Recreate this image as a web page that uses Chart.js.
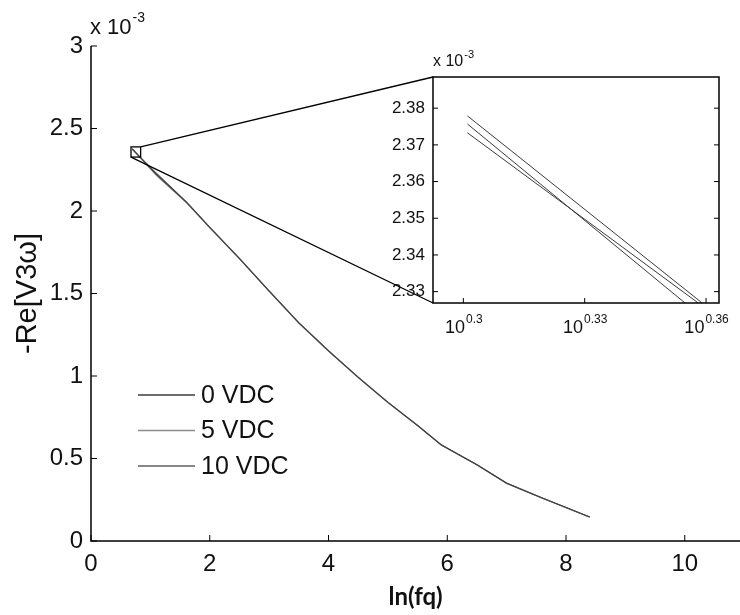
<!DOCTYPE html>
<html>
<head>
<meta charset="utf-8">
<script src="https://cdn.jsdelivr.net/npm/chart.js@4.4.0/dist/chart.umd.min.js"></script>
<style>
  body { margin: 0; background: #fff; }
  #wrap { position: relative; width: 740px; height: 615px; }
  #mainChart { position: absolute; left: 0; top: 0; }
  #zoomChart { position: absolute; left: 370px; top: 20px; }
</style>
</head>
<body>
<div id="wrap">
  <canvas id="mainChart" width="740" height="615"></canvas>
  <canvas id="zoomChart" width="370" height="330"></canvas>
</div>
<script>
// ln of the drive frequency, and -Re[V3w] (x 10^-3) for each bias
const lnFq = [0.6931, 1.10, 1.61, 2.0, 2.5, 3.0, 3.5, 4.0, 4.5, 5.0, 5.5, 5.9, 6.5, 7.0, 7.6, 8.4];
const vdc0 = [2.3779, 2.2226, 2.052, 1.900, 1.712, 1.515, 1.322, 1.152, 0.992, 0.840, 0.700, 0.582, 0.462, 0.350, 0.260, 0.145];
const vdc5 = [2.3757, 2.2154, 2.049, 1.898, 1.711, 1.514, 1.321, 1.151, 0.991, 0.839, 0.699, 0.581, 0.461, 0.349, 0.259, 0.144];
const vdc10 = [2.3733, 2.2296, 2.054, 1.902, 1.713, 1.516, 1.323, 1.153, 0.993, 0.841, 0.701, 0.583, 0.463, 0.351, 0.261, 0.146];
const seriesLabels = ['0 VDC', '5 VDC', '10 VDC'];

// tick positions
const xTicks = [0, 2, 4, 6, 8, 10];
const yTicks = [0, 0.5, 1, 1.5, 2, 2.5, 3];
const zoomXExp = [0.3, 0.33, 0.36];           // inset x ticks sit at 10^exp
const zoomYTicks = [2.33, 2.34, 2.35, 2.36, 2.37, 2.38];

const FONT = '"Liberation Sans", Arial, sans-serif';
const lineColors = ['#3c3c3c', '#8c8c8c', '#5e5e5e'];
const allSeries = [vdc0, vdc5, vdc10];

// "10" with a raised exponent, x is the left edge (or centre if centred)
function drawPower(ctx, x, y, base, exp, size, expSize, centred) {
    ctx.font = size + 'px ' + FONT;
    const wb = ctx.measureText(base).width;
    ctx.font = expSize + 'px ' + FONT;
    const we = ctx.measureText(exp).width;
    let left = centred ? x - (wb + we) / 2 : x;
    ctx.textAlign = 'left';
    ctx.textBaseline = 'middle';
    ctx.font = size + 'px ' + FONT;
    ctx.fillText(base, left, y);
    ctx.font = expSize + 'px ' + FONT;
    ctx.fillText(exp, left + wb + 1, y - size * 0.45);
}

// ---- inset: zoom on the first points, log frequency axis ----
const zoomFrame = {
    id: 'zoomFrame',
    beforeDatasetsDraw(chart) {
        const a = chart.chartArea, ctx = chart.ctx;
        ctx.save();
        ctx.fillStyle = '#fff';
        ctx.fillRect(a.left, a.top, a.right - a.left, a.bottom - a.top);
        ctx.restore();
    },
    afterDraw(chart) {
        const a = chart.chartArea, ctx = chart.ctx;
        const xs = chart.scales.x, ys = chart.scales.y;
        ctx.save();
        ctx.strokeStyle = '#000';
        ctx.lineWidth = 1.5;
        ctx.strokeRect(a.left, a.top, a.right - a.left, a.bottom - a.top);

        ctx.lineWidth = 1;
        ctx.beginPath();
        zoomXExp.forEach(e => {
            const px = xs.getPixelForValue(Math.pow(10, e));
            ctx.moveTo(px, a.bottom); ctx.lineTo(px, a.bottom - 5);
        });
        zoomYTicks.forEach(v => {
            const py = ys.getPixelForValue(v);
            ctx.moveTo(a.left, py); ctx.lineTo(a.left + 5, py);
            ctx.moveTo(a.right, py); ctx.lineTo(a.right - 5, py);
        });
        ctx.stroke();

        ctx.fillStyle = '#111';
        ctx.font = '17px ' + FONT;
        ctx.textAlign = 'right';
        ctx.textBaseline = 'middle';
        zoomYTicks.forEach(v => ctx.fillText(v.toFixed(2), a.left - 8, ys.getPixelForValue(v)));

        zoomXExp.forEach(e => {
            drawPower(ctx, xs.getPixelForValue(Math.pow(10, e)), a.bottom + 25, '10', String(e), 18, 12, true);
        });
        drawPower(ctx, a.left, a.top - 15, 'x 10', '-3', 16, 11, false);
        ctx.restore();
    }
};

const zoomChart = new Chart(document.getElementById('zoomChart'), {
    type: 'line',
    data: {
        datasets: allSeries.map((vals, i) => ({
            label: seriesLabels[i],
            data: vals.map((v, j) => ({ x: Math.exp(lnFq[j]), y: v })),
            borderColor: '#3a3a3a',
            borderWidth: 1,
            pointRadius: 0,
            tension: 0
        }))
    },
    options: {
        responsive: false,
        animation: false,
        layout: { padding: { left: 63, top: 57, right: 21, bottom: 47 } },
        plugins: { legend: { display: false }, tooltip: { enabled: false } },
        scales: {
            x: { type: 'logarithmic', min: Math.pow(10, 0.2925), max: Math.pow(10, 0.3632), display: false },
            y: { type: 'linear', min: 2.3269, max: 2.3885, display: false }
        }
    },
    plugins: [zoomFrame]
});

// ---- main plot ----
const mainFrame = {
    id: 'mainFrame',
    afterDraw(chart) {
        const a = chart.chartArea, ctx = chart.ctx;
        const xs = chart.scales.x, ys = chart.scales.y;
        ctx.save();

        // left and bottom axis lines
        ctx.strokeStyle = '#000';
        ctx.lineWidth = 1.5;
        ctx.beginPath();
        ctx.moveTo(a.left, a.top);
        ctx.lineTo(a.left, a.bottom);
        ctx.lineTo(a.right, a.bottom);
        ctx.stroke();

        // tick marks point inwards
        ctx.lineWidth = 1;
        ctx.beginPath();
        xTicks.forEach(v => {
            const px = xs.getPixelForValue(v);
            ctx.moveTo(px, a.bottom); ctx.lineTo(px, a.bottom - 6);
        });
        yTicks.forEach(v => {
            const py = ys.getPixelForValue(v);
            ctx.moveTo(a.left, py); ctx.lineTo(a.left + 6, py);
        });
        ctx.stroke();

        ctx.fillStyle = '#111';
        ctx.font = '24px ' + FONT;
        ctx.textAlign = 'center';
        ctx.textBaseline = 'middle';
        xTicks.forEach(v => ctx.fillText(String(v), xs.getPixelForValue(v), a.bottom + 23));
        ctx.textAlign = 'right';
        yTicks.forEach(v => ctx.fillText(String(v), a.left - 8, ys.getPixelForValue(v)));

        drawPower(ctx, a.left - 1, 28, 'x 10', '-3', 22, 14, false);

        // axis titles
        ctx.save();
        ctx.translate(28, (a.top + a.bottom) / 2);
        ctx.rotate(-Math.PI / 2);
        ctx.textAlign = 'center';
        ctx.textBaseline = 'middle';
        ctx.font = '29px ' + FONT;
        ctx.fillText('-Re[V3ω]', 0, 0);
        ctx.restore();

        ctx.textAlign = 'center';
        ctx.textBaseline = 'middle';
        ctx.font = 'bold 24px Lato, ' + FONT;
        ctx.fillText('ln(fq)', (a.left + a.right) / 2, 597);

        // legend
        chart.data.datasets.forEach((ds, i) => {
            const y = 395 + i * 35.5;
            ctx.strokeStyle = ds.borderColor;
            ctx.lineWidth = i === 0 ? 1.6 : 1.3;
            ctx.beginPath();
            ctx.moveTo(138, y); ctx.lineTo(195, y);
            ctx.stroke();
            ctx.fillStyle = '#111';
            ctx.font = '25px ' + FONT;
            ctx.textAlign = 'left';
            ctx.fillText(ds.label, 201, y + 1);
        });

        // zoom box and connectors to the inset
        const zx = zoomChart.scales.x, zy = zoomChart.scales.y, za = zoomChart.chartArea;
        const bx0 = xs.getPixelForValue(Math.log(zx.min));
        const bx1 = xs.getPixelForValue(Math.log(zx.max));
        const by0 = ys.getPixelForValue(zy.max);
        const by1 = ys.getPixelForValue(zy.min);
        const cv = zoomChart.canvas;
        const ix = cv.offsetLeft + za.left;
        ctx.strokeStyle = '#000';
        ctx.lineWidth = 1.3;
        ctx.strokeRect(bx0, by0, bx1 - bx0, by1 - by0);
        ctx.beginPath();
        ctx.moveTo(bx1, by0); ctx.lineTo(ix, cv.offsetTop + za.top);
        ctx.moveTo(bx0, by1); ctx.lineTo(ix, cv.offsetTop + za.bottom);
        ctx.stroke();

        ctx.restore();
    }
};

const mainChart = new Chart(document.getElementById('mainChart'), {
    type: 'line',
    data: {
        datasets: allSeries.map((vals, i) => ({
            label: seriesLabels[i],
            data: vals.map((v, j) => ({ x: lnFq[j], y: v })),
            borderColor: lineColors[i],
            borderWidth: 1.1,
            pointRadius: 0,
            tension: 0
        }))
    },
    options: {
        responsive: false,
        animation: false,
        layout: { padding: { left: 91, top: 46, right: 0, bottom: 74 } },
        plugins: { legend: { display: false }, tooltip: { enabled: false } },
        scales: {
            x: { type: 'linear', min: 0, max: 10.93, display: false },
            y: { type: 'linear', min: 0, max: 3, display: false }
        }
    },
    plugins: [mainFrame]
});
</script>
</body>
</html>
